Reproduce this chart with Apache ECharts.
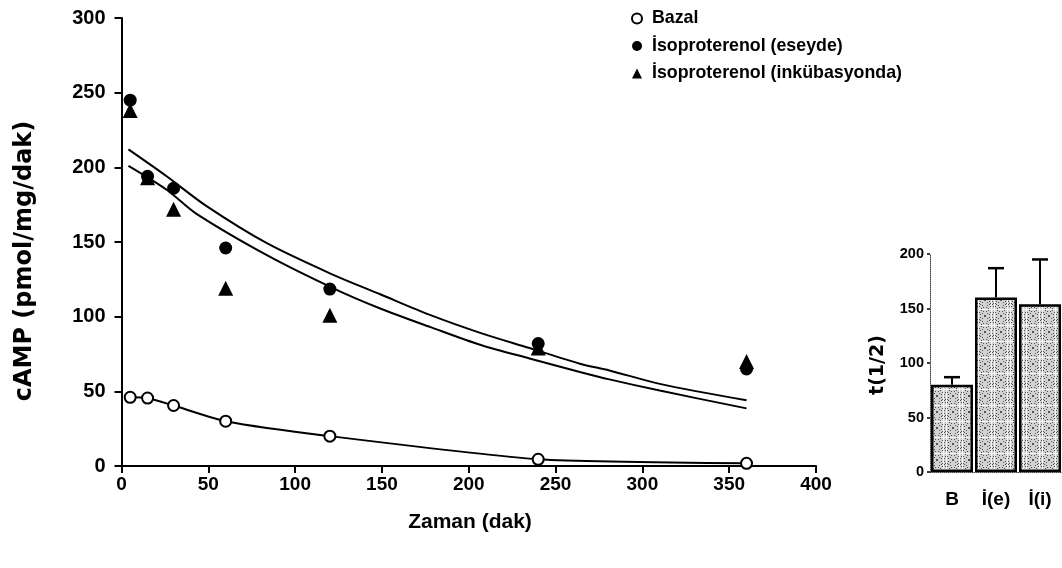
<!DOCTYPE html>
<html>
<head>
<meta charset="utf-8">
<script src="https://cdn.jsdelivr.net/npm/echarts@6/dist/echarts.min.js"></script>
<style>
  html, body { margin: 0; padding: 0; background: #fff; }
  #chart { width: 1062px; height: 568px; }
</style>
</head>
<body>
<div id="chart"></div>
<script>
// Sampling times (dak)
const times = [5, 15, 30, 60, 120, 240, 360];
// cAMP (pmol/mg/dak) per group
const bazal = [46, 45.5, 40.5, 30, 20, 4.5, 1.8];
const eseyde = [245, 194, 186, 146, 118.5, 82, 65];
const inkubasyonda = [238, 193, 172, 119, 101, 79, 70];

// Fitted decay curves, read as [time, value] samples
const fitUpperT = [4, 26, 49, 84, 122, 149, 178, 207, 235, 264, 281, 310, 360];
const fitUpperV = [212, 194, 174, 149, 128, 115, 101, 89, 79, 68.5, 64, 55, 44];
const fitLowerT = [4, 26, 43, 84, 122, 149, 178, 207, 235, 264, 281, 310, 360];
const fitLowerV = [201, 185, 169, 141, 119, 105.5, 93, 81, 72, 63, 58, 50.5, 38.6];

// Half-life inset
const halfCats = ['B', 'İ(e)', 'İ(i)'];
const halfVals = [80, 160, 154];
const halfErrTop = [87, 187, 195];

const legendNames = ['Bazal', 'İsoproterenol (eseyde)', 'İsoproterenol (inkübasyonda)'];

const FONT = '"Liberation Sans", Arial, sans-serif';
const TITLE_FONT = '"DejaVu Sans", Verdana, sans-serif';
const pair = (xs, ys) => xs.map((x, i) => [x, ys[i]]);

// Stippled fill for the inset bars
function stipple() {
  const c = document.createElement('canvas');
  c.width = 16; c.height = 16;
  const g = c.getContext('2d');
  g.fillStyle = '#d2d2d2';
  g.fillRect(0, 0, 16, 16);
  for (let i = 0; i < 16; i++) {
    for (let j = 0; j < 16; j++) {
      const h = (i * 11 + j * 7 + i * j * 3) % 13;
      if (h === 0 || h === 5) { g.fillStyle = '#505050'; g.fillRect(i, j, 1, 1); }
      else if (h === 9) { g.fillStyle = '#f4f4f4'; g.fillRect(i, j, 1, 1); }
    }
  }
  return c;
}

const chart = echarts.init(document.getElementById('chart'), null, { renderer: 'canvas' });

const axisBase = {
  axisLine: { lineStyle: { color: '#000', width: 2 } },
  axisTick: { show: true, inside: false, length: 7, lineStyle: { color: '#000', width: 2 } },
  splitLine: { show: false },
};

chart.setOption({
  animation: false,
  backgroundColor: '#fff',
  textStyle: { fontFamily: FONT },
  grid: [
    { left: 121.5, right: 246, top: 18, bottom: 102 },
    { left: 930, width: 141, top: 254, bottom: 96 }
  ],
  legend: {
    data: legendNames,
    orient: 'vertical',
    left: 626,
    top: 3.5,
    itemWidth: 10,
    itemHeight: 10,
    itemGap: 7.5,
    textStyle: { fontFamily: FONT, fontSize: 17.8, fontWeight: 'bold', color: '#000', lineHeight: 20, padding: [0, 0, 0, 5] }
  },
  xAxis: [
    Object.assign({}, axisBase, {
      type: 'value', gridIndex: 0, min: 0, max: 400, interval: 50,
      axisLabel: { color: '#000', fontSize: 19, fontWeight: 'bold', fontFamily: FONT, margin: 9 }
    }),
    {
      type: 'category', gridIndex: 1, data: halfCats,
      axisLine: { lineStyle: { color: '#444', width: 1, type: 'dotted' } },
      axisTick: { show: false },
      axisLabel: { color: '#000', fontSize: 19, fontWeight: 'bold', fontFamily: FONT, margin: 18 }
    }
  ],
  yAxis: [
    Object.assign({}, axisBase, {
      type: 'value', gridIndex: 0, min: 0, max: 300, interval: 50,
      axisLabel: { color: '#000', fontSize: 20, fontWeight: 'bold', fontFamily: FONT, margin: 16 }
    }),
    {
      type: 'value', gridIndex: 1, min: 0, max: 200, interval: 50,
      axisLine: { show: true, lineStyle: { color: '#444', width: 1, type: 'dotted' } },
      axisTick: { show: true, length: 3, lineStyle: { color: '#000', width: 1.5 } },
      splitLine: { show: false },
      axisLabel: { color: '#000', fontSize: 14.5, fontWeight: 'bold', fontFamily: FONT, margin: 6 }
    }
  ],
  graphic: [
    {
      type: 'text', x: 470, y: 522,
      style: { text: 'Zaman (dak)', font: 'bold 21px ' + FONT, fill: '#000', align: 'center', verticalAlign: 'middle' }
    },
    {
      type: 'text', x: 25, y: 261, rotation: Math.PI / 2,
      style: { text: 'cAMP (pmol/mg/dak)', font: 'bold 24px ' + TITLE_FONT, fill: '#000', align: 'center', verticalAlign: 'middle' }
    },
    {
      type: 'text', x: 878, y: 365, rotation: Math.PI / 2,
      style: { text: 't(1/2)', font: 'bold 19px ' + TITLE_FONT, fill: '#000', align: 'center', verticalAlign: 'middle' }
    }
  ],
  series: [
    {
      type: 'line', xAxisIndex: 0, yAxisIndex: 0, data: pair(fitUpperT, fitUpperV),
      showSymbol: false, smooth: 0.3, silent: true, z: 2,
      lineStyle: { color: '#000', width: 2 }
    },
    {
      type: 'line', xAxisIndex: 0, yAxisIndex: 0, data: pair(fitLowerT, fitLowerV),
      showSymbol: false, smooth: 0.3, silent: true, z: 2,
      lineStyle: { color: '#000', width: 2 }
    },
    {
      type: 'line', xAxisIndex: 0, yAxisIndex: 0, data: pair(times, bazal),
      showSymbol: false, smooth: 0.2, silent: true, z: 2,
      lineStyle: { color: '#000', width: 2 }
    },
    {
      name: legendNames[0], type: 'scatter', xAxisIndex: 0, yAxisIndex: 0,
      data: pair(times, bazal), symbol: 'circle', symbolSize: 11, z: 4,
      itemStyle: { color: '#fff', borderColor: '#000', borderWidth: 2, opacity: 1 }
    },
    {
      name: legendNames[2], type: 'scatter', xAxisIndex: 0, yAxisIndex: 0,
      data: pair(times, inkubasyonda), symbol: 'triangle', symbolSize: 15, z: 4,
      itemStyle: { color: '#000', opacity: 1 }
    },
    {
      name: legendNames[1], type: 'scatter', xAxisIndex: 0, yAxisIndex: 0,
      data: pair(times, eseyde), symbol: 'circle', symbolSize: 13, z: 5,
      itemStyle: { color: '#000', opacity: 1 }
    },
    {
      type: 'bar', xAxisIndex: 1, yAxisIndex: 1, data: halfVals, barWidth: 42, z: 3,
      itemStyle: { color: { image: stipple(), repeat: 'repeat' }, borderColor: '#000', borderWidth: 2.5 }
    },
    {
      type: 'custom', xAxisIndex: 1, yAxisIndex: 1, z: 2,
      data: halfCats.map((c, i) => [i, halfVals[i], halfErrTop[i]]),
      renderItem: function (params, api) {
        const base = api.coord([api.value(0), api.value(1)]);
        const top = api.coord([api.value(0), api.value(2)]);
        const half = 8;
        return {
          type: 'group',
          children: [
            { type: 'line', shape: { x1: base[0], y1: base[1], x2: top[0], y2: top[1] }, style: { stroke: '#000', lineWidth: 2 } },
            { type: 'line', shape: { x1: top[0] - half, y1: top[1], x2: top[0] + half, y2: top[1] }, style: { stroke: '#000', lineWidth: 2.5 } }
          ]
        };
      }
    }
  ]
});
</script>
</body>
</html>
